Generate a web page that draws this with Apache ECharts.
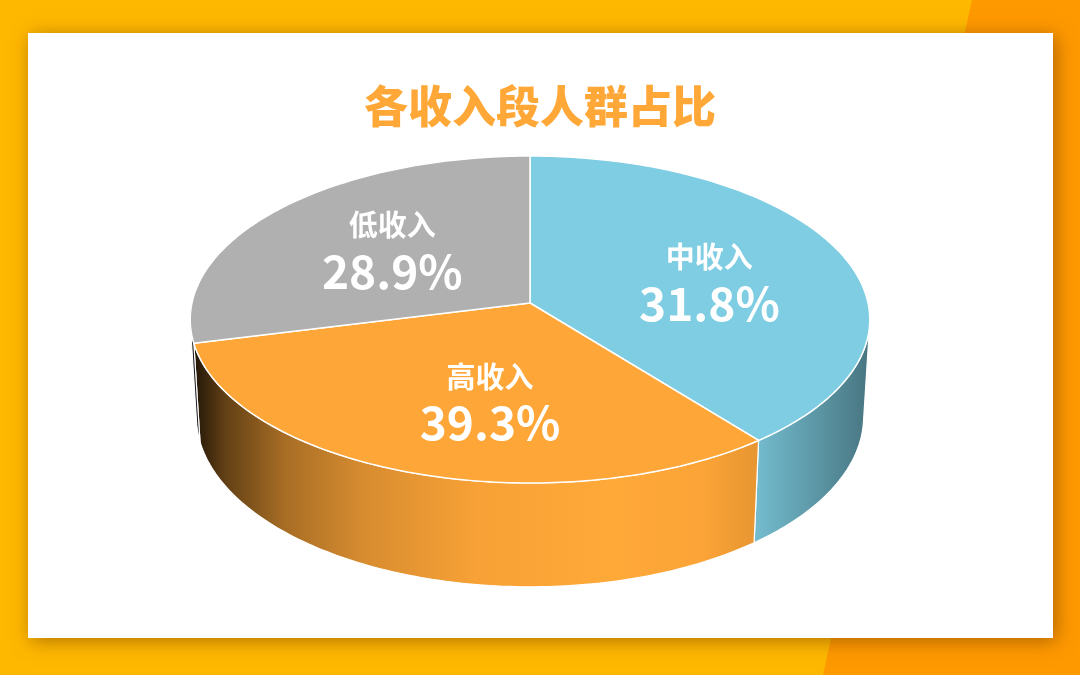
<!DOCTYPE html>
<html>
<head>
<meta charset="utf-8">
<script src="https://cdn.jsdelivr.net/npm/echarts@6/dist/echarts.min.js"></script>
<style>
  html, body { margin: 0; padding: 0; background: #FFB800; }
  #main { width: 1080px; height: 675px; }
</style>
</head>
<body>
<div id="main"></div>
<script>
// 数据
const categories = ['中收入', '高收入', '低收入'];
const percentLabels = [31.8, 39.3, 28.9];
// 图中每块扇形实际占的份额（蓝、橙两块的大小与标签正好相反）
const wedgeShare = [39.3, 31.8, 28.9];
const colors = ['#7ECDE2', '#FFA638', '#B0B0B0'];

// 3D 视角参数（半径 = 1）
const VIEW = {
  cx: 530, cy: 303,
  focal: 2941, dist: 8.70,
  tilt: 28.6 * Math.PI / 180,
  thick: 0.332
};
// 侧面明暗：横向位置(0~1) -> 亮度
const SHADE = [[0, 0.1], [0.05, 0.38], [0.14, 0.66], [0.26, 0.85], [0.42, 0.97],
               [0.62, 1.02], [0.75, 0.99], [0.84, 0.9], [1, 0.57]];
const LABEL_R = 0.55;
const LABEL_SHIFT = [[7, 6], [23, 8], [4, -2]];

function project(theta, r, h) {
  const ca = Math.cos(VIEW.tilt), sa = Math.sin(VIEW.tilt);
  const x = r * Math.sin(theta), z = -r * Math.cos(theta);
  const yc = h * ca - z * sa;
  const d = VIEW.dist - h * sa - z * ca;
  return [VIEW.cx + VIEW.focal * x / d, VIEW.cy - VIEW.focal * yc / d];
}

function arc(a, b, h) {
  const pts = [];
  const n = Math.max(2, Math.ceil((b - a) / (Math.PI / 180)));
  for (let k = 0; k <= n; k++) pts.push(project(a + (b - a) * k / n, 1, h));
  return pts;
}

function shade(hex, f) {
  const v = parseInt(hex.slice(1), 16);
  const c = [(v >> 16) & 255, (v >> 8) & 255, v & 255].map(x => Math.max(0, Math.min(255, Math.round(x * f))));
  return 'rgb(' + c.join(',') + ')';
}

// 饼的屏幕左右边界（用于侧面渐变）
let xmin = Infinity, xmax = -Infinity;
for (let k = 0; k < 720; k++) {
  [0, -VIEW.thick].forEach(h => {
    const p = project(k / 720 * 2 * Math.PI, 1, h);
    xmin = Math.min(xmin, p[0]); xmax = Math.max(xmax, p[0]);
  });
}
// 侧面可见范围（轮廓切点）
const cosSil = -1 / (VIEW.dist * Math.cos(VIEW.tilt));
const visFrom = Math.acos(cosSil), visTo = 2 * Math.PI - visFrom;
const total = wedgeShare.reduce((s, v) => s + v, 0);

function renderItem(params, api) {
  const i = params.dataIndex;
  let start = 0;
  for (let k = 0; k < i; k++) start += wedgeShare[k];
  const a0 = start / total * 2 * Math.PI;
  const a1 = (start + api.value(0)) / total * 2 * Math.PI;
  const children = [];

  // 侧面
  const s = Math.max(a0, visFrom), e = Math.min(a1, visTo);
  if (e > s) {
    const pts = arc(s, e, 0).concat(arc(s, e, -VIEW.thick).reverse());
    children.push({
      type: 'polygon', z2: 1,
      shape: { points: pts },
      style: {
        fill: new echarts.graphic.LinearGradient(xmin, 0, xmax, 0,
          SHADE.map(st => ({ offset: st[0], color: shade(colors[i], st[1]) })), true),
        stroke: '#fff', lineWidth: 1.2
      }
    });
  }
  // 顶面
  children.push({
    type: 'polygon', z2: 10,
    shape: { points: [project(0, 0, 0)].concat(arc(a0, a1, 0)) },
    style: { fill: colors[i], stroke: '#fff', lineWidth: 1.5, lineJoin: 'round' }
  });
  // 标签
  const mid = (a0 + a1) / 2;
  const p = project(mid, LABEL_R, 0);
  const lx = p[0] + LABEL_SHIFT[i][0], ly = p[1] + LABEL_SHIFT[i][1];
  children.push({
    type: 'text', z2: 20,
    style: {
      text: categories[i], x: lx, y: ly - 23, align: 'center', verticalAlign: 'middle',
      fill: '#fff', fontSize: 29, fontWeight: 'bold', fontFamily: 'Noto Sans CJK SC'
    }
  });
  children.push({
    type: 'text', z2: 20,
    style: {
      text: api.value(1).toFixed(1) + '%', x: lx, y: ly + 23, align: 'center', verticalAlign: 'middle',
      fill: '#fff', fontSize: 46, fontWeight: 'bold', fontFamily: 'Noto Sans CJK SC'
    }
  });
  return { type: 'group', children: children };
}

const chart = echarts.init(document.getElementById('main'));
chart.setOption({
  backgroundColor: '#FFB800',
  animation: false,
  graphic: [
    { type: 'polygon', z: -10, shape: { points: [[972, 0], [1080, 0], [1080, 675], [823, 675]] }, style: { fill: '#FF9900' } },
    {
      type: 'rect', z: -5, shape: { x: 28, y: 33, width: 1025, height: 605 },
      style: { fill: '#fff', shadowBlur: 18, shadowColor: 'rgba(110,60,0,0.55)', shadowOffsetX: 3, shadowOffsetY: 3 }
    }
  ],
  title: {
    text: '各收入段人群占比',
    left: 'center', top: 79,
    textStyle: { color: '#FFA838', fontSize: 44, fontWeight: 900, fontFamily: 'Noto Sans CJK SC' }
  },
  series: [{
    type: 'custom',
    coordinateSystem: 'none',
    silent: true,
    renderItem: renderItem,
    data: categories.map((c, i) => [wedgeShare[i], percentLabels[i]])
  }]
});
</script>
</body>
</html>
